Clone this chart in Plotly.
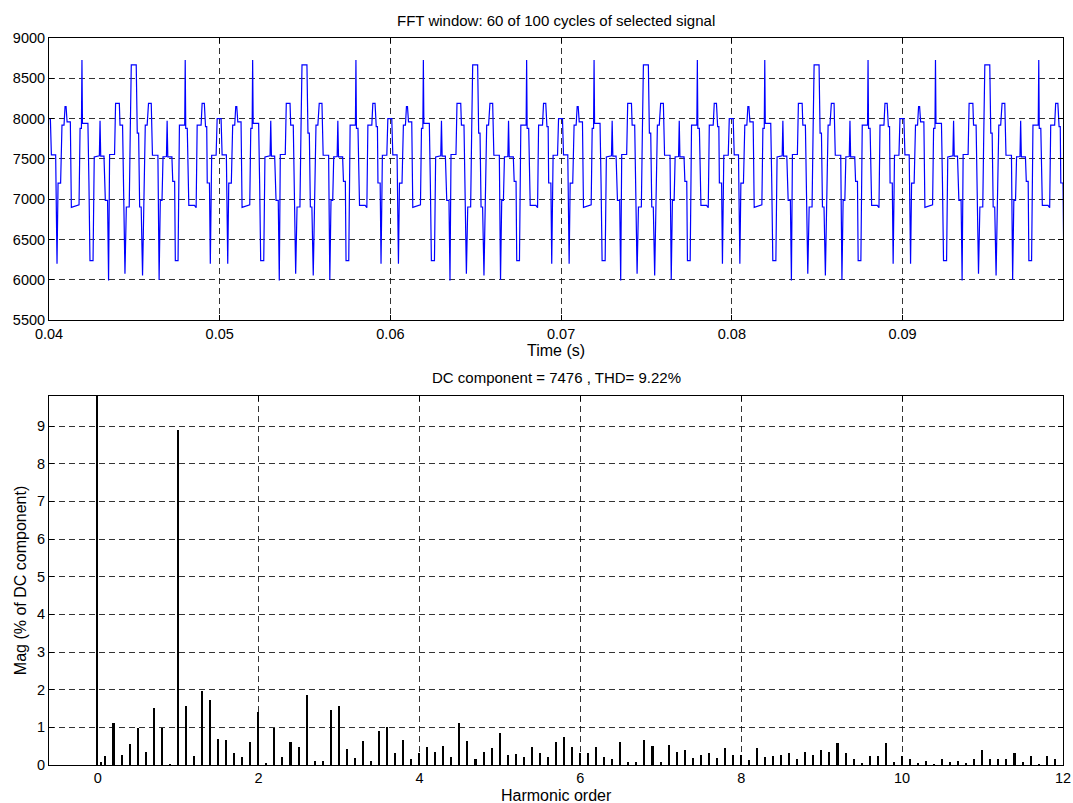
import plotly.graph_objects as go

# ---------------- data ----------------
# One 10 ms period of the selected signal
# (time offset inside the period in ms, value). The picture shows the
# same period repeated six times across the 0.04-0.10 s window.
period_ms = [0.00, 0.08, 0.14, 0.39, 0.47, 0.53, 0.68, 0.76, 0.88, 0.94,
             1.00, 1.06, 1.25, 1.31, 1.76, 1.82, 1.90, 1.93, 1.96, 2.28,
             2.34, 2.40, 2.58, 2.65, 2.95, 2.99, 3.03, 3.22, 3.30, 3.43,
             3.49, 3.55, 3.84, 3.90, 4.12, 4.16, 4.31, 4.45, 4.53, 4.70,
             4.76, 4.82, 5.11, 5.17, 5.25, 5.31, 5.40, 5.48, 5.64, 5.75,
             5.83, 5.99, 6.06, 6.38, 6.45, 6.52, 6.62, 6.68, 6.88, 6.92,
             6.96, 7.20, 7.25, 7.36, 7.40, 7.56, 7.64, 7.95, 7.98, 8.01,
             8.10, 8.19, 8.52, 8.62, 8.68, 8.91, 8.97, 9.10, 9.17, 9.24,
             9.27, 9.40, 9.45, 9.53, 9.79, 9.85]
period_values = [8000, 8000, 7550, 7550, 6200, 7200, 7200, 7920, 7920, 8150,
                 8150, 7960, 7960, 6900, 6930, 7880, 7880, 8728, 7940, 7940,
                 7194, 6240, 6240, 7526, 7540, 7973, 7534, 7534, 6987, 6987,
                 5992, 7555, 7555, 8189, 8189, 7920, 7920, 6075, 6904, 6904,
                 7837, 8666, 8666, 7820, 7820, 6904, 6904, 6054, 7920, 7920,
                 8189, 8189, 7546, 7546, 6000, 6987, 6987, 7526, 7530, 7973,
                 7526, 7526, 7223, 7223, 6240, 6240, 7920, 7920, 8728, 7878,
                 7878, 6925, 6925, 6896, 7920, 7920, 8189, 8189, 7900, 7900,
                 7202, 7202, 6199, 7546, 7546, 8000]
period_starts = [0.04, 0.05, 0.06, 0.07, 0.08, 0.09]
window_end = (0.10, 8000)

# Harmonic spectrum (% of DC component)
harmonic_order = [0.0, 0.05,
                  0.1, 0.2, 0.3, 0.4, 0.5, 0.6, 0.7, 0.8, 0.9, 1.0,
                  1.1, 1.2, 1.3, 1.4, 1.5, 1.6, 1.7, 1.8, 1.9, 2.0,
                  2.1, 2.2, 2.3, 2.4, 2.5, 2.6, 2.7, 2.8, 2.9, 3.0,
                  3.1, 3.2, 3.3, 3.4, 3.5, 3.6, 3.7, 3.8, 3.9, 4.0,
                  4.1, 4.2, 4.3, 4.4, 4.5, 4.6, 4.7, 4.8, 4.9, 5.0,
                  5.1, 5.2, 5.3, 5.4, 5.5, 5.6, 5.7, 5.8, 5.9, 6.0,
                  6.1, 6.2, 6.3, 6.4, 6.5, 6.6, 6.7, 6.8, 6.9, 7.0,
                  7.1, 7.2, 7.3, 7.4, 7.5, 7.6, 7.7, 7.8, 7.9, 8.0,
                  8.1, 8.2, 8.3, 8.4, 8.5, 8.6, 8.7, 8.8, 8.9, 9.0,
                  9.1, 9.2, 9.3, 9.4, 9.5, 9.6, 9.7, 9.8, 9.9, 10.0,
                  10.1, 10.2, 10.3, 10.4, 10.5, 10.6, 10.7, 10.8, 10.9, 11.0,
                  11.1, 11.2, 11.3, 11.4, 11.5, 11.6, 11.7, 11.8, 11.9]
magnitude = [100.0, 0.08,
             0.23, 1.13, 0.26, 0.56, 0.99, 0.35, 1.51, 0.99, 0.02, 8.90,
             1.58, 0.23, 1.97, 1.72, 0.69, 0.67, 0.32, 0.22, 0.61, 1.42,
             0.06, 0.98, 0.22, 0.61, 0.47, 1.86, 0.12, 0.10, 1.46, 1.57,
             0.44, 0.20, 0.64, 0.11, 0.90, 1.00, 0.32, 0.66, 0.16, 0.33,
             0.48, 0.34, 0.50, 0.21, 1.13, 0.64, 0.16, 0.36, 0.46, 0.86,
             0.27, 0.29, 0.21, 0.48, 0.32, 0.21, 0.62, 0.74, 0.48, 0.31,
             0.32, 0.48, 0.21, 0.16, 0.62, 0.07, 0.08, 0.66, 0.52, 0.08,
             0.53, 0.35, 0.39, 0.18, 0.27, 0.33, 0.19, 0.46, 0.26, 0.27,
             0.14, 0.45, 0.21, 0.24, 0.27, 0.32, 0.16, 0.35, 0.27, 0.40,
             0.34, 0.58, 0.32, 0.16, 0.05, 0.24, 0.23, 0.58, 0.08, 0.25,
             0.17, 0.05, 0.12, 0.04, 0.15, 0.08, 0.11, 0.06, 0.16, 0.40,
             0.16, 0.15, 0.15, 0.33, 0.09, 0.24, 0.04, 0.24, 0.17]

top_title = "FFT window: 60 of 100 cycles of selected signal"
bottom_title = "DC component = 7476 , THD= 9.22%"
top_xlabel = "Time (s)"
bottom_xlabel = "Harmonic order"
bottom_ylabel = "Mag (% of DC component)"

# ---------------- build signal ----------------
t_sig, v_sig = [], []
for start in period_starts:
    for dt, v in zip(period_ms, period_values):
        t_sig.append(start + dt / 1000.0)
        v_sig.append(v)
t_sig.append(window_end[0])
v_sig.append(window_end[1])

FONT = "Liberation Sans, Arial, Helvetica, sans-serif"
TICK_SIZE = 14.5
TITLE_SIZE = 15
LABEL_SIZE = 16

fig = go.Figure()
fig.add_trace(go.Scatter(x=t_sig, y=v_sig, mode="lines",
                         line=dict(color="#0000FF", width=1.2),
                         xaxis="x", yaxis="y", showlegend=False))
fig.add_trace(go.Bar(x=harmonic_order, y=magnitude, width=0.019,
                     marker=dict(color="black", line=dict(width=0)),
                     xaxis="x2", yaxis="y2", showlegend=False))

axis_common = dict(showline=True, linecolor="black", linewidth=1, mirror="ticks",
                   ticks="inside", ticklen=5, tickcolor="black",
                   showgrid=True, gridcolor="rgba(0,0,0,0.8)", griddash="6px,4px",
                   gridwidth=1, zeroline=False, automargin=False,
                   tickfont=dict(family=FONT, size=TICK_SIZE, color="black"))

TOP_DOM = [0.6118, 1]
BOT_DOM = [0, 0.5077]

fig.update_layout(
    width=1073, height=803, autosize=False,
    paper_bgcolor="white", plot_bgcolor="white",
    margin=dict(l=49, r=10, t=38, b=38, autoexpand=False),
    font=dict(family=FONT, size=13, color="black"),
    bargap=0,
    xaxis=dict(axis_common, domain=[0, 1], anchor="y",
               range=[0.04, 0.0994], tickvals=[0.04, 0.05, 0.06, 0.07, 0.08, 0.09],
               ticktext=["0.04", "0.05", "0.06", "0.07", "0.08", "0.09"]),
    yaxis=dict(axis_common, domain=TOP_DOM, anchor="x",
               range=[5500, 9000], dtick=500, tickformat="d"),
    xaxis2=dict(axis_common, domain=[0, 1], anchor="y2",
                range=[-0.605, 12], dtick=2, tick0=0),
    yaxis2=dict(axis_common, domain=BOT_DOM, anchor="x2",
                range=[0, 9.8], dtick=1, tick0=0,
                title=dict(text=bottom_ylabel, standoff=6,
                           font=dict(family=FONT, size=LABEL_SIZE))),
    annotations=[
        dict(text=top_title, x=0.5, y=TOP_DOM[1], xref="paper", yref="paper",
             xanchor="center", yanchor="middle", yshift=18, showarrow=False,
             font=dict(family=FONT, size=TITLE_SIZE)),
        dict(text=bottom_title, x=0.5, y=BOT_DOM[1], xref="paper", yref="paper",
             xanchor="center", yanchor="middle", yshift=18, showarrow=False,
             font=dict(family=FONT, size=TITLE_SIZE)),
        dict(text=top_xlabel, x=0.5, y=TOP_DOM[0], xref="paper", yref="paper",
             xanchor="center", yanchor="middle", yshift=-30, showarrow=False,
             font=dict(family=FONT, size=LABEL_SIZE)),
        dict(text=bottom_xlabel, x=0.5, y=BOT_DOM[0], xref="paper", yref="paper",
             xanchor="center", yanchor="middle", yshift=-30, showarrow=False,
             font=dict(family=FONT, size=LABEL_SIZE)),
    ],
)

# remove the browser's default 8 px page margin so the figure fills the window
fig.write_html("out.html",
               config={"displayModeBar": False},
               post_script="document.body.style.margin='0';"
                           "document.body.style.overflow='hidden';")
